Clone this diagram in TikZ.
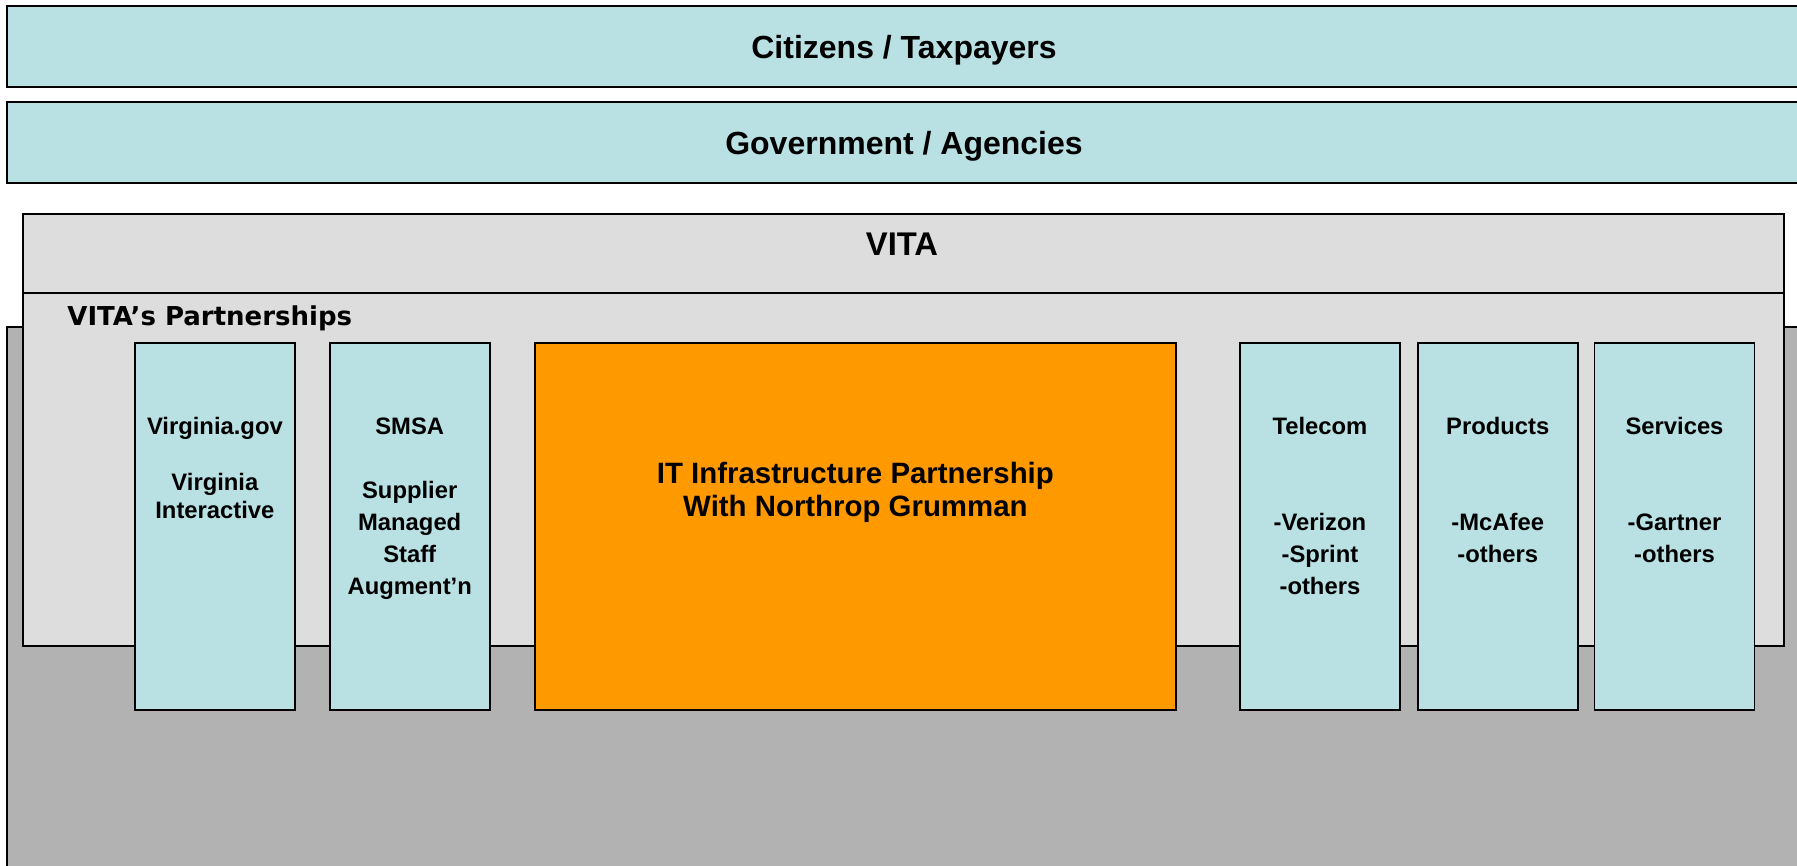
\documentclass[tikz,border=0pt]{standalone}
\usepackage{fontspec}
\setmainfont{Liberation Sans}
\newfontfamily\verdanafont{DejaVu Sans}
\usetikzlibrary{positioning}

\definecolor{paleblue}{RGB}{185,224,227}
\definecolor{vitagray}{RGB}{221,221,221}
\definecolor{basegray}{RGB}{178,178,178}
\definecolor{ngorange}{RGB}{255,153,0}

\begin{document}
\begin{tikzpicture}[x=0.5pt, y=-0.5pt,
    bar/.style={draw=black, line width=1pt, fill=paleblue, inner sep=0, anchor=north west, text depth=0pt,
        minimum width=897pt, minimum height=40.5pt, font=\bfseries\fontsize{16}{18}\selectfont},
    partner/.style={draw=black, line width=0.9pt, fill=paleblue, inner sep=0,
        minimum width=80pt, minimum height=183.5pt},
    boxtext/.style={align=center, inner sep=0, font=\bfseries\fontsize{11.9}{16}\selectfont}
  ]
\clip (0,0) rectangle (1797,866);

% Top layers
\node[bar] (citizens) at (6,5) {Citizens / Taxpayers};
\node[bar] (government) at (6,101) {Government / Agencies};

% Grey base and VITA frame
\node[draw=black, line width=0.9pt, fill=basegray, anchor=north west, inner sep=0,
    minimum width=910pt, minimum height=280pt] (base) at (6,326) {};
\node[draw=black, line width=0.9pt, fill=vitagray, anchor=north west, inner sep=0,
    minimum width=880.5pt, minimum height=216pt] (vita) at (22,213) {};
\draw[line width=0.9pt] ([yshift=-40pt]vita.north west) -- ([yshift=-40pt]vita.north east);
\node[font=\bfseries\fontsize{16.4}{18}\selectfont, inner sep=0] (vitatitle) at (902,244) {VITA};
\node[font=\verdanafont\bfseries\fontsize{13}{15}\selectfont, inner sep=0, anchor=base west]
    (partnerships) at (67,325) {VITA’s Partnerships};

% Partnership columns
\node[partner, anchor=north west] (vagov) at (134,342) {};
\node[partner, right=16.5pt of vagov] (smsa) {};
\node[partner, fill=ngorange, minimum width=320.5pt, anchor=north west] (itp) at (534,342) {};
\node[partner, anchor=north west] (telecom) at (1239,342) {};
\node[partner, right=8pt of telecom] (products) {};
\node[partner, right=7.5pt of products] (services) {};

% Column texts
\node[boxtext, font=\bfseries\fontsize{11.9}{14}\selectfont, below=37.5pt of vagov.north] (vagovtext)
    {Virginia.gov\\[14pt]Virginia\\Interactive};
\node[boxtext, below=37.5pt of smsa.north] (smsatext)
    {SMSA\\[16pt]Supplier\\Managed\\Staff\\Augment’n};
\node[boxtext, font=\bfseries\fontsize{14.7}{16.5}\selectfont, below=60pt of itp.north] (itptext)
    {IT Infrastructure Partnership\\With Northrop Grumman};
\node[boxtext, below=37.5pt of telecom.north] (telecomtext)
    {Telecom\\[32pt]-Verizon\\-Sprint\\-others};
\node[boxtext, below=37.5pt of products.north] (productstext)
    {Products\\[32pt]-McAfee\\-others};
\node[boxtext, below=37.5pt of services.north] (servicestext)
    {Services\\[32pt]-Gartner\\-others};

\end{tikzpicture}
\end{document}
